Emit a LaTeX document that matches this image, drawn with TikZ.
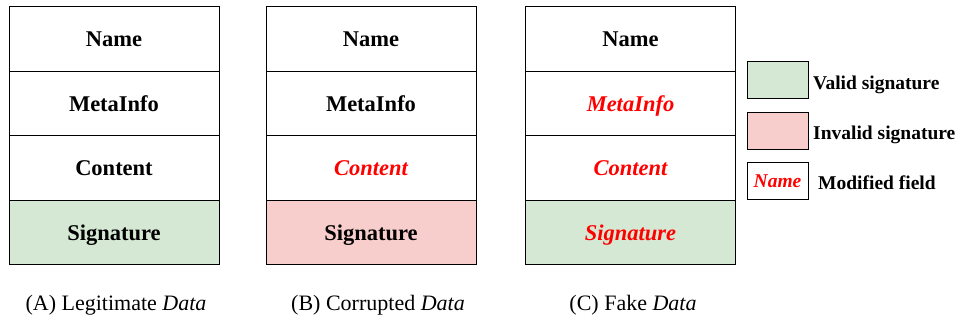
\documentclass[tikz,border=0pt]{standalone}
\usepackage{fontspec}
\setmainfont{Liberation Serif}
\definecolor{validgreen}{HTML}{D5E8D4}
\definecolor{invalidpink}{HTML}{F8CECC}
\begin{document}
\begin{tikzpicture}[x=1pt,y=-1pt,
  field/.style={draw,line width=1pt,minimum width=210pt,minimum height=64.5pt,inner sep=0pt,
    text height=16pt,text depth=1.4pt,font=\fontsize{22.5}{26}\selectfont\bfseries},
  changed/.style={text=red,font=\fontsize{22.5}{26}\selectfont\bfseries\itshape},
  key/.style={draw,line width=1pt,minimum width=61pt,minimum height=37pt,inner sep=0pt},
  keytext/.style={anchor=base west,inner sep=0pt,font=\fontsize{19.5}{23}\selectfont\bfseries},
  caption/.style={anchor=base,inner sep=0pt,font=\fontsize{22}{26}\selectfont}]
\useasboundingbox (0,0) rectangle (958,320);

%(A) legitimate
\node[field] (aname) at (114,39.25) {Name};
\node[field] (ameta) at (114,103.75) {MetaInfo};
\node[field] (acont) at (114,168.25) {Content};
\node[field,fill=validgreen] (asig) at (114,232.75) {Signature};
\node[caption] (acap) at (116,310) {(A) Legitimate \textit{Data}};

%(B) corrupted
\node[field] (bname) at (371,39.25) {Name};
\node[field] (bmeta) at (371,103.75) {MetaInfo};
\node[field,changed] (bcont) at (371,168.25) {Content};
\node[field,fill=invalidpink] (bsig) at (371,232.75) {Signature};
\node[caption] (bcap) at (378,310) {(B) Corrupted \textit{Data}};

%(C) fake
\node[field] (cname) at (630.5,39.25) {Name};
\node[field,changed] (cmeta) at (630.5,103.75) {MetaInfo};
\node[field,changed] (ccont) at (630.5,168.25) {Content};
\node[field,changed,fill=validgreen] (csig) at (630.5,232.75) {Signature};
\node[caption] (ccap) at (633,310) {(C) Fake \textit{Data}};

%legend
\node[key,fill=validgreen] (kvalid) at (777.5,80.5) {};
\node[keytext] (tvalid) at (813,89.3) {Valid signature};
\node[key,fill=invalidpink] (kinvalid) at (777.5,131.5) {};
\node[keytext] (tinvalid) at (813,139.3) {Invalid signature};
\node[key,changed,text height=14pt,text depth=1.5pt,font=\fontsize{19.5}{23}\selectfont\bfseries\itshape] (kmod) at (777.5,181.5) {Name};
\node[keytext] (tmod) at (818,190) {Modified field};
\end{tikzpicture}
\end{document}
